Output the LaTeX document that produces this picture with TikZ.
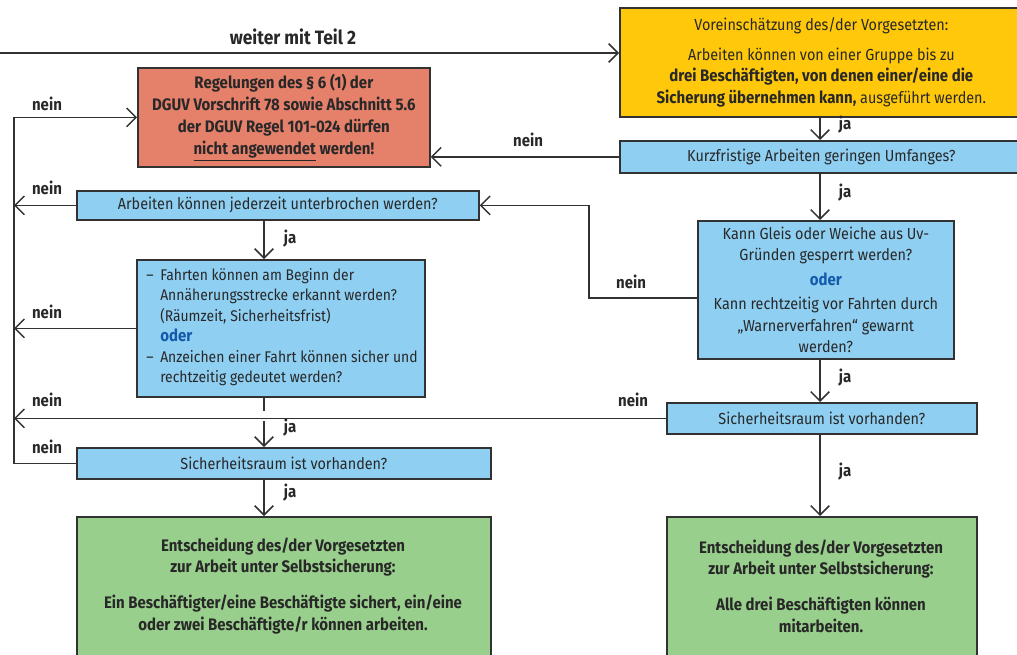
\documentclass[tikz,border=0pt]{standalone}
\usepackage{fontspec}
\setmainfont{Fira Sans}[FakeStretch=0.9]
\usetikzlibrary{arrows.meta}
\definecolor{yel}{RGB}{255,200,10}
\definecolor{salmon}{RGB}{229,128,106}
\definecolor{lblue}{RGB}{143,207,242}
\definecolor{lgreen}{RGB}{153,207,140}
\definecolor{oderblue}{RGB}{20,90,170}
\definecolor{txt}{RGB}{40,40,40}
\definecolor{brd}{RGB}{50,50,50}
\newcommand\fdash{\makebox[10.5pt][l]{–}}
\newcommand\findent{\hspace*{10.5pt}}
\newcommand\oderw{{\fontsize{12.5}{16}\selectfont\bfseries\color{oderblue}oder}}
\tikzset{
  box/.style={draw=brd, line width=1.3pt, text=txt, align=center, inner sep=0pt, anchor=north west,
    font=\fontsize{12}{16.2}\selectfont},
  arr/.style={draw=brd, line width=1.1pt, -{Straight Barb[length=7pt,width=14pt,line width=1.1pt]}},
  ln/.style={draw=brd, line width=1.1pt},
  lab/.style={text=txt, font=\fontsize{12.5}{14}\selectfont\bfseries, inner sep=0pt},
  txtnode/.style={text=txt, inner sep=0pt, font=\fontsize{12}{16}\selectfont}
}
\begin{document}
\begin{tikzpicture}[x=0.75pt,y=-0.75pt]
\useasboundingbox (0,0) rectangle (1017,654);
\fill[white] (0,0) rectangle (1017,654);
% boxes
\node[box, fill=yel, minimum width=302.25pt, minimum height=81.75pt] (yel) at (619,7)
 {Voreinschätzung des/der Vorgesetzten:\\[6pt]
  Arbeiten können von einer Gruppe bis zu\\
  {\fontsize{12.5}{16.2}\selectfont\bfseries drei Beschäftigten, von denen einer/eine die}\\
  {\fontsize{12.5}{16.2}\selectfont\bfseries Sicherung übernehmen kann,} ausgeführt werden.};
\node[box, fill=lblue, minimum width=302.25pt, minimum height=24pt] (kurz) at (619,140)
 {Kurzfristige Arbeiten geringen Umfanges?};
\node[box, fill=salmon, minimum width=219pt, minimum height=74.25pt, font=\fontsize{12.5}{16.5}\selectfont\bfseries] (red) at (137,67)
 {Regelungen des § 6 (1) der\\
  DGUV Vorschrift 78 sowie Abschnitt 5.6\\
  der DGUV Regel 101-024 dürfen\\
  \underline{nicht angewendet} werden!};
\node[box, fill=lblue, minimum width=301.5pt, minimum height=21.75pt] (arb) at (76,190)
 {Arbeiten können jederzeit unterbrochen werden?};
\node[box, fill=lblue, minimum width=216pt, minimum height=102.75pt] (fahr) at (136,259) {};
\node[txtnode, anchor=west, align=left, font=\fontsize{11.6}{15.4}\selectfont] (fahrtxt) at (146,327)
 {\fdash Fahrten können am Beginn der\\
  \findent Annäherungsstrecke erkannt werden?\\
  \findent (Räumzeit, Sicherheitsfrist)\\
  \findent \oderw\\
  \fdash Anzeichen einer Fahrt können sicher und\\
  \findent rechtzeitig gedeutet werden?};
\node[box, fill=lblue, minimum width=192pt, minimum height=103.5pt] (gleis) at (697,220)
 {Kann Gleis oder Weiche aus Uv-\\
  Gründen gesperrt werden?\\[2pt]
  \oderw\\[2pt]
  Kann rechtzeitig vor Fahrten durch\\
  „Warnerverfahren“ gewarnt\\
  werden?};
\node[box, fill=lblue, minimum width=232.5pt, minimum height=23.25pt] (sichR) at (666,402)
 {Sicherheitsraum ist vorhanden?};
\node[box, fill=lblue, minimum width=310.5pt, minimum height=23.25pt] (sichL) at (76,447)
 {Sicherheitsraum ist vorhanden?};
\node[box, fill=lgreen, minimum width=310.5pt, minimum height=112.5pt] (grL) at (76,516) {};
\node[txtnode, align=center, font=\fontsize{12.5}{16}\selectfont\bfseries] (grLtxt) at (283,586)
 {Entscheidung des/der Vorgesetzten\\
  zur Arbeit unter Selbstsicherung:\\[11pt]
  Ein Beschäftigter/eine Beschäftigte sichert, ein/eine\\
  oder zwei Beschäftigte/r können arbeiten.};
\node[box, fill=lgreen, minimum width=232.5pt, minimum height=112.5pt] (grR) at (666,516) {};
\node[txtnode, align=center, font=\fontsize{12.5}{16}\selectfont\bfseries] (grRtxt) at (821,586)
 {Entscheidung des/der Vorgesetzten\\
  zur Arbeit unter Selbstsicherung:\\[11pt]
  Alle drei Beschäftigten können\\
  mitarbeiten.};
% helper coordinates
\coordinate (Lx) at (14,0);
\coordinate (lx) at (264,0);
\coordinate (rx) at (820,0);
\coordinate (start) at (0,53);
\coordinate (gk) at (589,298);
\coordinate (j1) at (264,411);
\coordinate (j2) at (264,421);
% connectors
\draw[arr] (start) -- (start -| yel.west);
\node[lab, font=\fontsize{14.5}{16}\selectfont\bfseries] (weiter) at (293,37) {weiter mit Teil 2};
\draw[arr] (yel.south -| rx) -- (kurz.north -| rx);
\draw[arr] (kurz.west) -- (kurz.west -| red.east);
\draw[arr] (kurz.south -| rx) -- (gleis.north -| rx);
\draw[arr] (gleis.west |- gk) -- (gk) |- (arb.east);
\draw[arr] (gleis.south -| rx) -- (sichR.north -| rx);
\draw[arr] (sichR.west) -- (sichR.west -| Lx);
\draw[arr] (sichR.south -| rx) -- (grR.north -| rx);
\draw[arr] (arb.west) -- (arb.west -| Lx);
\draw[arr] (arb.south -| lx) -- (fahr.north -| lx);
\draw[arr] (fahr.west) -- (fahr.west -| Lx);
\draw[ln] (fahr.south -| lx) -- (j1);
\draw[arr] (j2) -- (sichL.north -| lx);
\draw[arr] (sichL.west) -- (sichL.west -| Lx) -- (red.west -| Lx) -- (red.west);
\draw[arr] (sichL.south -| lx) -- (grL.north -| lx);
% labels
\node[lab] (n1) at (47,104) {nein};
\node[lab] (n2) at (47,188) {nein};
\node[lab] (n3) at (47,312) {nein};
\node[lab] (n4) at (47,400) {nein};
\node[lab] (n5) at (47,447) {nein};
\node[lab] (n6) at (528,140) {nein};
\node[lab] (n7) at (631,282) {nein};
\node[lab] (n8) at (633,400) {nein};
\node[lab] (j1l) at (845,125) {ja};
\node[lab] (j2l) at (845,193) {ja};
\node[lab] (j3l) at (845,378) {ja};
\node[lab] (j4l) at (845,472) {ja};
\node[lab] (j5l) at (290,239) {ja};
\node[lab] (j6l) at (290,428) {ja};
\node[lab] (j7l) at (290,493) {ja};
\end{tikzpicture}
\end{document}
